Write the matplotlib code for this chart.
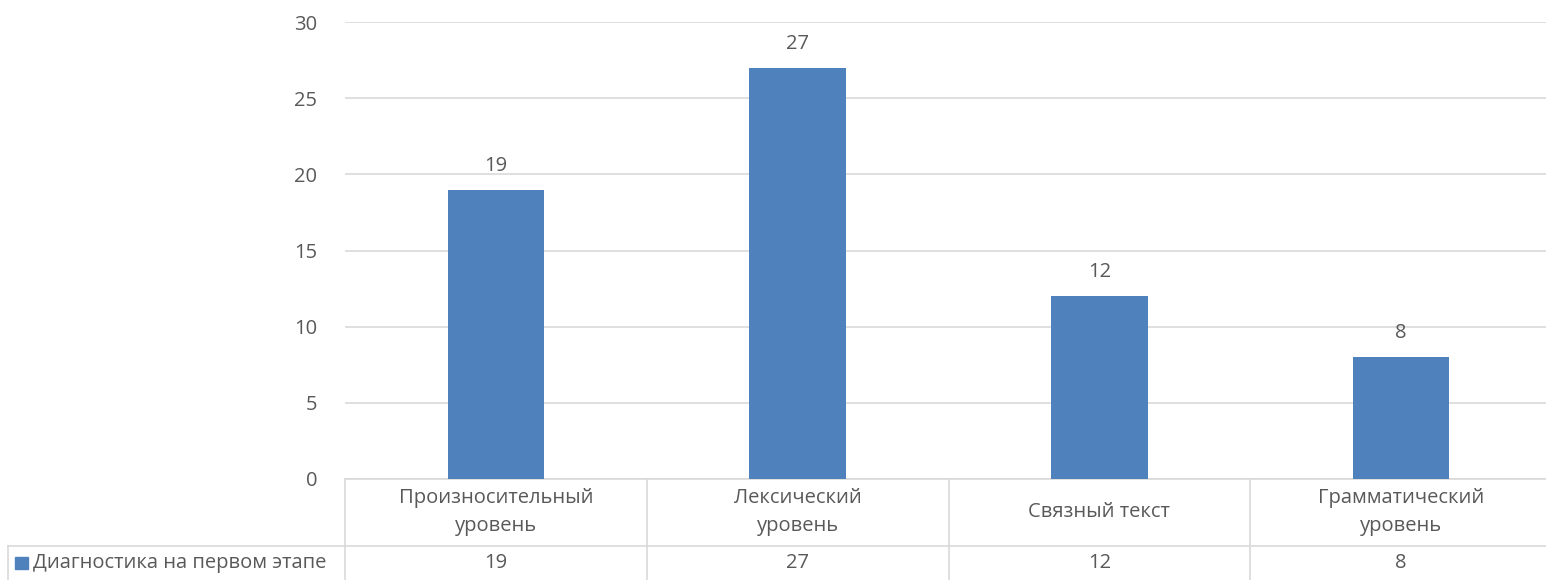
import matplotlib.pyplot as plt
from matplotlib.transforms import blended_transform_factory
from matplotlib.patches import Rectangle

plt.rcParams['font.family'] = ['Open Sans', 'DejaVu Sans']

categories = ['Произносительный\nуровень', 'Лексический\nуровень', 'Связный текст', 'Грамматический\nуровень']
values = [19, 27, 12, 8]
series_name = 'Диагностика на первом этапе'
yticks = [0, 5, 10, 15, 20, 25, 30]

W, H = 1546, 580
bar_color = '#4F81BD'
text_color = '#595959'
grid_color = '#D9D9D9'
fs = 14.5

fig = plt.figure(figsize=(W / 100, H / 100), dpi=100)
ax = fig.add_axes([345 / W, (H - 479) / H, (1552 - 345) / W, 457 / H])

x = list(range(len(values)))
bars = ax.bar(x, values, width=0.32, color=bar_color, zorder=3)
for b, v in zip(bars, values):
    ax.annotate(str(v), (b.get_x() + b.get_width() / 2, v), xytext=(0, 10),
                textcoords='offset points', ha='center', va='bottom',
                fontsize=fs, color=text_color)

ax.set_xlim(-0.5, len(values) - 0.5)
ax.set_ylim(0, 30)
ax.set_yticks(yticks)
ax.yaxis.grid(True, color=grid_color, linewidth=1.2, zorder=0)
ax.tick_params(axis='y', length=0, pad=20, labelsize=fs, labelcolor=text_color)
ax.set_xticks([])
for s in ax.spines.values():
    s.set_visible(False)

# data table below the plot
tr = blended_transform_factory(ax.transData, fig.transFigure)
def fy(py):
    return (H - py) / H

lw = 1.2
ax.plot([-0.5, 3.5], [fy(479), fy(479)], transform=tr, color=grid_color, lw=lw, clip_on=False)
fig.add_artist(plt.Line2D([8 / W, 1], [fy(546), fy(546)], color=grid_color, lw=lw))
fig.add_artist(plt.Line2D([8 / W, 8 / W], [fy(546), 0], color=grid_color, lw=lw))
for xv in [-0.5, 0.5, 1.5, 2.5]:
    ax.plot([xv, xv], [fy(479), 0], transform=tr, color=grid_color, lw=lw, clip_on=False)

for xi, cat, v in zip(x, categories, values):
    ax.text(xi, fy(512), cat, transform=tr, ha='center', va='center',
            fontsize=fs, color=text_color, linespacing=1.55)
    ax.text(xi, fy(563), str(v), transform=tr, ha='center', va='center',
            fontsize=fs, color=text_color)

fig.add_artist(Rectangle((15 / W, fy(569)), 13 / W, 12 / H, color=bar_color))
fig.text(33 / W, fy(563), series_name, ha='left', va='center', fontsize=fs, color=text_color)

fig.savefig('out.png', dpi=100)
